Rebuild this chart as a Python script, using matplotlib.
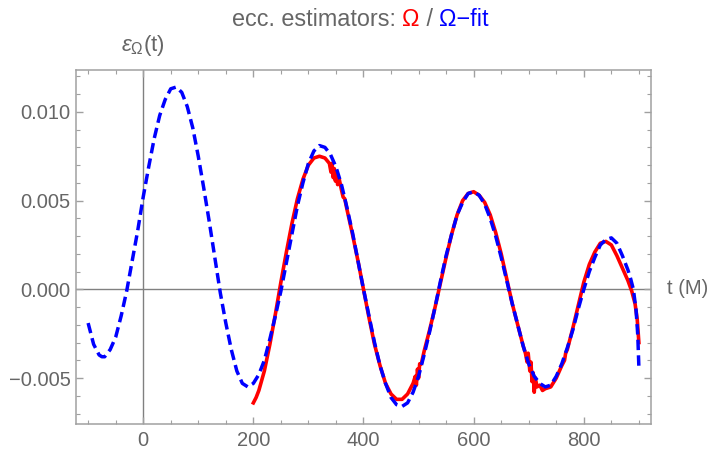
import matplotlib
matplotlib.use("Agg")
import matplotlib.pyplot as plt
from matplotlib.ticker import MultipleLocator, FormatStrFormatter

plt.rcParams['font.family'] = ['Liberation Sans', 'DejaVu Sans']
plt.rcParams['mathtext.fontset'] = 'custom'
plt.rcParams['mathtext.rm'] = 'Liberation Sans'
plt.rcParams['mathtext.it'] = 'Liberation Sans:italic'

# Omega-fit estimator (blue dashed)
t_fit = [-100, -90, -80, -75, -70, -60, -50, -40, -30, -20, -10, 0, 10, 20, 30, 40, 50,
         60, 70, 80, 90, 100, 110, 120, 130, 140, 150, 160, 170, 180, 190, 200,
         210, 220, 230, 240, 250, 260, 270, 280, 290, 300, 310, 320, 330, 340,
         350, 360, 370, 380, 390, 400, 410, 420, 430, 440, 450, 460, 470, 480,
         490, 500, 510, 520, 530, 540, 550, 560, 570, 580, 590, 600, 610, 620,
         630, 640, 650, 660, 670, 680, 690, 700, 710, 720, 730, 740, 750, 760,
         770, 780, 790, 800, 810, 820, 830, 840, 850, 860, 870, 880, 885, 890,
         895, 898, 900]
ecc_fit = [-0.0019, -0.0031, -0.0037, -0.0038, -0.0038, -0.0034, -0.0027, -0.0015, -0.0001,
           0.0016, 0.0033, 0.0052, 0.0069, 0.0085, 0.0098, 0.0107, 0.0113,
           0.0114, 0.0111, 0.0103, 0.0091, 0.0075, 0.0057, 0.0038, 0.0018,
           -0.0002, -0.0019, -0.0034, -0.0046, -0.0053, -0.0055, -0.0053,
           -0.0048, -0.0040, -0.0028, -0.0015, -0.0001, 0.0015, 0.0031, 0.0047,
           0.0060, 0.0071, 0.0078, 0.0081, 0.0080, 0.0076, 0.0069, 0.0059,
           0.0046, 0.0032, 0.0016, 0.0000, -0.0015, -0.0030, -0.0043, -0.0053,
           -0.0061, -0.0065, -0.0066, -0.0064, -0.0058, -0.0049, -0.0037,
           -0.0024, -0.0010, 0.0005, 0.0019, 0.0031, 0.0042, 0.0049, 0.0054,
           0.0055, 0.0053, 0.0048, 0.0040, 0.0030, 0.0018, 0.0005, -0.0008,
           -0.0020, -0.0032, -0.0042, -0.0049, -0.0053, -0.0055, -0.0054,
           -0.0049, -0.0042, -0.0033, -0.0023, -0.0011, 0.0000, 0.0010, 0.0018,
           0.0025, 0.0028, 0.0029, 0.0026, 0.0019, 0.0011, 0.0006, 0.0000,
           -0.0012, -0.0026, -0.0044]

# Omega estimator (red solid)
t_om = [200, 205, 210, 220, 230, 240, 250, 260, 270, 280, 290, 300, 310, 320, 330,
        338, 341, 343, 345, 347, 349, 351, 353, 356, 360, 363, 366, 370, 380, 390,
        400, 410, 420, 430, 440, 450, 460, 470, 480, 490, 494, 496, 498, 500, 502,
        505, 510, 520, 530, 540, 550, 560, 570, 580, 590, 600, 610, 620, 630, 640,
        650, 660, 670, 680, 690, 694, 697, 699, 702, 704, 706, 708, 710, 712, 715,
        720, 725, 730, 740, 750, 760, 765, 767, 770, 780, 790, 800, 810, 820, 830,
        840, 850, 860, 870, 880, 887, 893, 897, 900]
ecc_om = [-0.0064, -0.0061, -0.0057, -0.0046, -0.0031, -0.0014, 0.0004, 0.0021,
          0.0037, 0.0051, 0.0062, 0.0070, 0.0074, 0.0075, 0.0074, 0.0071, 0.0066,
          0.0071, 0.0063, 0.0068, 0.0061, 0.0066, 0.0059, 0.0062, 0.0056, 0.0052,
          0.0051, 0.0045, 0.0031, 0.0016, 0.0000, -0.0016, -0.0031, -0.0043,
          -0.0053, -0.0059, -0.0062, -0.0062, -0.0059, -0.0053, -0.0049, -0.0054,
          -0.0045, -0.0050, -0.0042, -0.0042, -0.0035, -0.0023, -0.0010, 0.0004,
          0.0018, 0.0031, 0.0042, 0.0050, 0.0054, 0.0055, 0.0053, 0.0049, 0.0042,
          0.0032, 0.0020, 0.0006, -0.0008, -0.0020, -0.0032, -0.0036, -0.0041,
          -0.0036, -0.0046, -0.0041, -0.0052, -0.0047, -0.0058, -0.0050, -0.0055,
          -0.0054, -0.0057, -0.0056, -0.0055, -0.0050, -0.0043, -0.0040, -0.0036,
          -0.0034, -0.0022, -0.0009, 0.0004, 0.0014, 0.0021, 0.0026, 0.0027,
          0.0025, 0.0019, 0.0012, 0.0005, -0.0001, -0.0008, -0.0017, -0.0030]

frame_col = "#a0a0a0"
text_col = "#666666"

fig = plt.figure(figsize=(7.09, 4.5), dpi=100)
ax = fig.add_axes([76 / 709, 1 - 424 / 450, (651 - 76) / 709, (424 - 70) / 450])

ax.axhline(0, color="#808080", lw=1, zorder=1)
ax.axvline(0, color="#808080", lw=1, zorder=1)

ax.plot(t_fit, ecc_fit, color="blue", lw=2.5, ls=(0, (3.0, 1.5)), zorder=3,
        solid_joinstyle="round", dash_joinstyle="round")
ax.plot(t_om, ecc_om, color="red", lw=2.6, zorder=2, solid_joinstyle="round")

ax.set_xlim(-122, 922)
ax.set_ylim(-0.00759, 0.01236)

ax.xaxis.set_major_locator(MultipleLocator(200))
ax.xaxis.set_minor_locator(MultipleLocator(50))
ax.yaxis.set_major_locator(MultipleLocator(0.005))
ax.yaxis.set_minor_locator(MultipleLocator(0.001))
ax.yaxis.set_major_formatter(FormatStrFormatter("%.3f"))
ax.xaxis.set_major_formatter(FormatStrFormatter("%d"))

for s in ax.spines.values():
    s.set_color(frame_col)
    s.set_linewidth(1.1)

ax.tick_params(which="both", direction="in", top=True, right=True,
               color=frame_col, labelcolor=text_col, labelsize=14.5)
ax.tick_params(which="major", length=5, width=1)
ax.tick_params(which="minor", length=3, width=0.8)
ax.tick_params(axis="x", pad=5)
ax.tick_params(axis="y", pad=4)

# labels with the minus sign used in the picture
ax.set_yticklabels([("\u2212" + f"{abs(v):.3f}") if v < -1e-9 else f"{abs(v):.3f}"
                    for v in ax.get_yticks()])

# title in pieces
fs = 16.8
t1 = fig.text(232 / 709, 1 - 26 / 450, "ecc. estimators: ", color=text_col,
              fontsize=fs, va="baseline", ha="left")
t2 = ax.annotate("\u03a9", xy=(1, 0), xycoords=t1, color="red", fontsize=fs,
                 va="bottom", ha="left", annotation_clip=False)
t3 = ax.annotate(" / ", xy=(1, 0), xycoords=t2, color=text_col, fontsize=fs,
                 va="bottom", ha="left", annotation_clip=False)
t4 = ax.annotate("\u03a9\u2212fit", xy=(1, 0), xycoords=t3, color="blue", fontsize=fs,
                 va="bottom", ha="left", annotation_clip=False)

fig.text(121 / 709, 1 - 51 / 450, r"$\varepsilon_{\Omega}$(t)", color=text_col,
         fontsize=16, va="baseline", ha="left")
fig.text(667 / 709, 1 - 289 / 450, "t (M)", color=text_col, fontsize=14.5,
         va="center", ha="left")

fig.savefig("out.png", dpi=100)
